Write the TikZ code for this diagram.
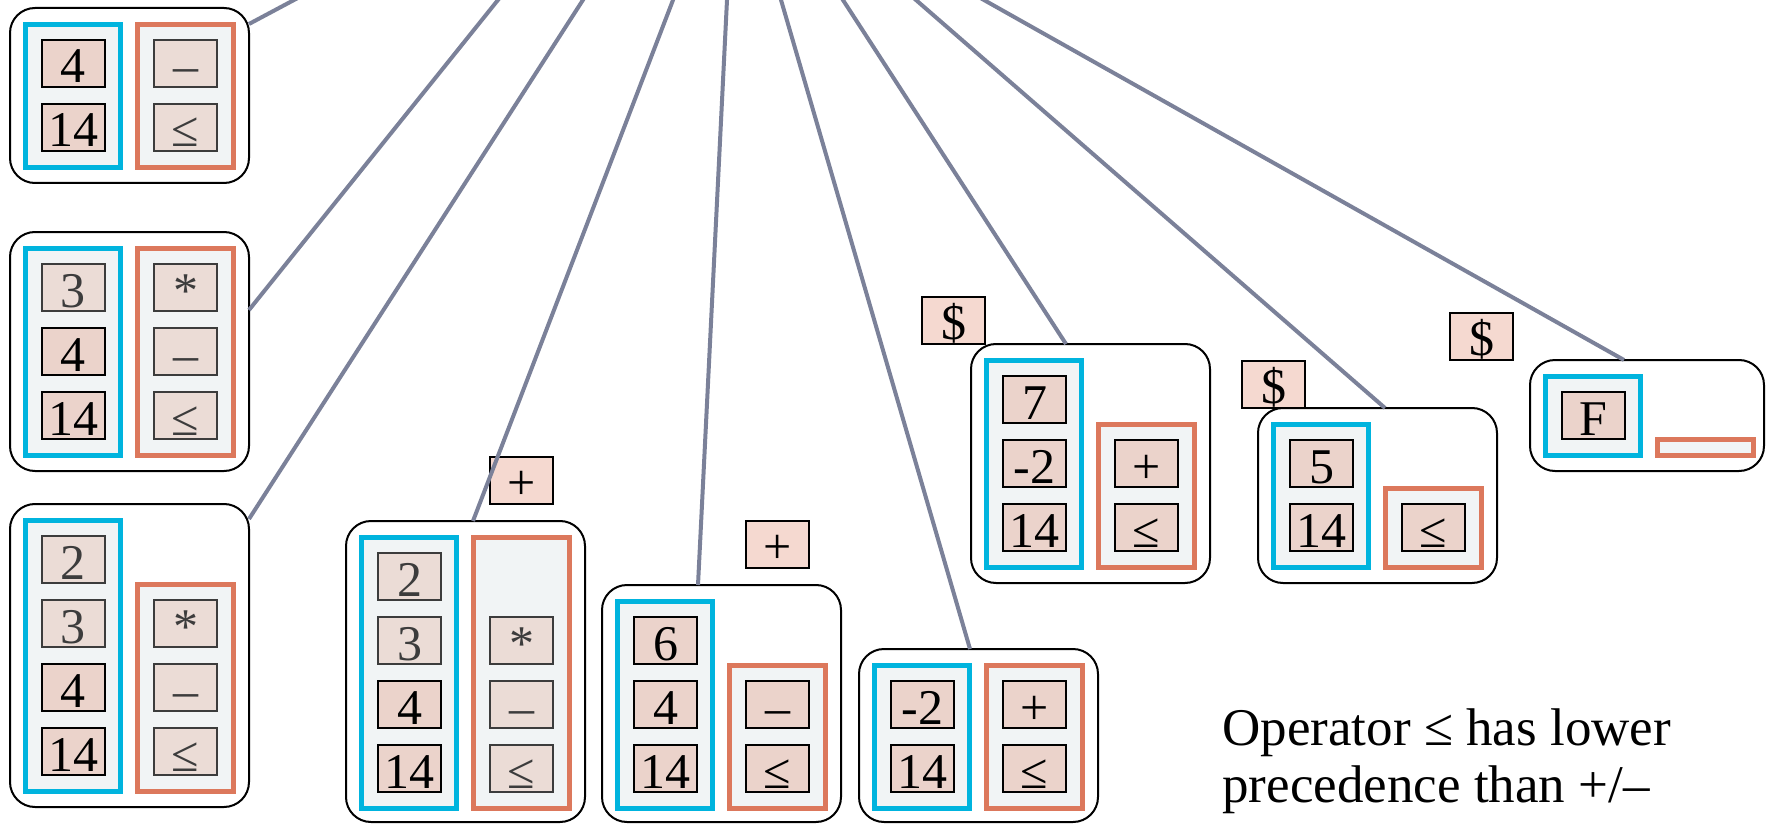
\documentclass[tikz,border=0pt]{standalone}
\usepackage{fontspec}
\setmainfont{Liberation Serif}
\usetikzlibrary{calc,fit}

\definecolor{linkgray}{RGB}{123,129,153}
\definecolor{stackblue}{RGB}{0,180,222}
\definecolor{opred}{RGB}{220,120,92}
\definecolor{panelfill}{RGB}{241,244,245}
\definecolor{cellfill}{RGB}{235,211,203}
\definecolor{dimfill}{RGB}{235,220,214}
\definecolor{floatfill}{RGB}{245,217,208}
\definecolor{dimink}{RGB}{60,60,60}

\tikzset{
  frame/.style={draw=black, line width=1pt, rounded corners=12.5pt, inner sep=0pt, outer sep=0pt},
  valpanel/.style={draw=stackblue, fill=panelfill, line width=2.5pt, inner sep=0pt, outer sep=0pt},
  oppanel/.style={draw=opred, fill=panelfill, line width=2.5pt, inner sep=0pt, outer sep=0pt},
  cell/.style={draw=black, fill=cellfill, line width=1pt, minimum width=31.5pt,
    minimum height=23.5pt, inner sep=0pt, outer sep=0pt, text height=19.5pt, text depth=0pt,
    font=\fontsize{25}{30}\selectfont},
  dimcell/.style={cell, draw=dimink, fill=dimfill, text=dimink},
  pending/.style={cell, fill=floatfill},
  link/.style={draw=linkgray, line width=2pt},
  note/.style={anchor=base west, inner sep=0pt, font=\fontsize{26.5}{28.5}\selectfont},
}

\begin{document}
\begin{tikzpicture}[x=0.5pt, y=-0.5pt]
\useasboundingbox (0,0) rectangle (1768,824);
\clip (0,0) rectangle (1768,824);

% ---- state A: 4 14 | - <=
\node[frame, fit={(10,8) (249,183)}] (oA) {};
\node[valpanel, fit={(25.5,24.5) (120.5,167.5)}] (vA) {};
\node[oppanel, fit={(137.5,24.5) (233.5,167.5)}] (pA) {};
\node[cell] (a1) at (73.5,63.5) {4};
\node[cell] (a2) at (73.5,127.5) {14};
\node[dimcell] (a3) at (185.5,63.5) {–};
\node[dimcell] (a4) at (185.5,127.5) {≤};

% ---- state B: 3 4 14 | * - <=
\node[frame, fit={(10,232) (249,471)}] (oB) {};
\node[valpanel, fit={(25.5,248.5) (120.5,455.5)}] (vB) {};
\node[oppanel, fit={(137.5,248.5) (233.5,455.5)}] (pB) {};
\node[dimcell] (b1) at (73.5,287.5) {3};
\node[cell] (b2) at (73.5,351.5) {4};
\node[cell] (b3) at (73.5,415.5) {14};
\node[dimcell] (b4) at (185.5,287.5) {*};
\node[dimcell] (b5) at (185.5,351.5) {–};
\node[dimcell] (b6) at (185.5,415.5) {≤};

% ---- state C: 2 3 4 14 | * - <=
\node[frame, fit={(10,504) (249,807)}] (oC) {};
\node[valpanel, fit={(25.5,520.5) (120.5,791.5)}] (vC) {};
\node[oppanel, fit={(137.5,584.5) (233.5,791.5)}] (pC) {};
\node[dimcell] (c1) at (73.5,559.5) {2};
\node[dimcell] (c2) at (73.5,623.5) {3};
\node[cell] (c3) at (73.5,687.5) {4};
\node[cell] (c4) at (73.5,751.5) {14};
\node[dimcell] (c5) at (185.5,623.5) {*};
\node[dimcell] (c6) at (185.5,687.5) {–};
\node[dimcell] (c7) at (185.5,751.5) {≤};

% ---- state D: 2 3 4 14 | * - <=, next token +
\node[frame, fit={(346,521) (585,822)}] (oD) {};
\node[valpanel, fit={(361.5,537.5) (456.5,808.5)}] (vD) {};
\node[oppanel, fit={(473.5,537.5) (569.5,808.5)}] (pD) {};
\node[dimcell] (d1) at (409.5,576.5) {2};
\node[dimcell] (d2) at (409.5,640.5) {3};
\node[cell] (d3) at (409.5,704.5) {4};
\node[cell] (d4) at (409.5,768.5) {14};
\node[dimcell] (d5) at (521.5,640.5) {*};
\node[dimcell] (d6) at (521.5,704.5) {–};
\node[dimcell] (d7) at (521.5,768.5) {≤};
\node[pending] (tokD) at (521.5,480) {+};

% ---- state E: 6 4 14 | - <=, next token +
\node[frame, fit={(602,585) (841,822)}] (oE) {};
\node[valpanel, fit={(617.5,601.5) (712.5,808.5)}] (vE) {};
\node[oppanel, fit={(729.5,665.5) (825.5,808.5)}] (pE) {};
\node[cell] (e1) at (665.5,640.5) {6};
\node[cell] (e2) at (665.5,704.5) {4};
\node[cell] (e3) at (665.5,768.5) {14};
\node[cell] (e4) at (777.5,704.5) {–};
\node[cell] (e5) at (777.5,768.5) {≤};
\node[pending] (tokE) at (777.5,544) {+};

% ---- state F: -2 14 | + <=
\node[frame, fit={(859,649) (1098,822)}] (oF) {};
\node[valpanel, fit={(874.5,665.5) (969.5,808.5)}] (vF) {};
\node[oppanel, fit={(986.5,665.5) (1082.5,808.5)}] (pF) {};
\node[cell] (f1) at (922.5,704.5) {-2};
\node[cell] (f2) at (922.5,768.5) {14};
\node[cell] (f3) at (1034.5,704.5) {+};
\node[cell] (f4) at (1034.5,768.5) {≤};

% ---- state G: 7 -2 14 | + <=, next token $
\node[frame, fit={(971,344) (1210,583)}] (oG) {};
\node[valpanel, fit={(986.5,360.5) (1081.5,567.5)}] (vG) {};
\node[oppanel, fit={(1098.5,424.5) (1194.5,567.5)}] (pG) {};
\node[cell] (g1) at (1034.5,399.5) {7};
\node[cell] (g2) at (1034.5,463.5) {-2};
\node[cell] (g3) at (1034.5,527.5) {14};
\node[cell] (g4) at (1146.5,463.5) {+};
\node[cell] (g5) at (1146.5,527.5) {≤};
\node[pending] (tokG) at (953.5,320) {\$};

% ---- state H: 5 14 | <=, next token $
\node[frame, fit={(1258,408) (1497,583)}] (oH) {};
\node[valpanel, fit={(1273.5,424.5) (1368.5,567.5)}] (vH) {};
\node[oppanel, fit={(1385.5,488.5) (1481.5,567.5)}] (pH) {};
\node[cell] (h1) at (1321.5,463.5) {5};
\node[cell] (h2) at (1321.5,527.5) {14};
\node[cell] (h3) at (1433.5,527.5) {≤};
\node[pending] (tokH) at (1273.5,384) {\$};

% ---- state I: F | empty, next token $
\node[frame, fit={(1530,360) (1764,471)}] (oI) {};
\node[valpanel, fit={(1545.5,376.5) (1640.5,455.5)}] (vI) {};
\node[oppanel, fit={(1657.5,439.5) (1753.5,455.5)}] (pI) {};
\node[cell] (i1) at (1593.5,415.5) {F};
\node[pending] (tokI) at (1481.5,336) {\$};

% ---- remark
\node[note] (rem1) at (1222,745) {Operator ≤ has lower};
\node[note] (rem2) at (1222,802) {precedence than +/–};

% ---- links towards the parent above
\coordinate (tA) at (331.5,-20);
\coordinate (tB) at (514,-20);
\coordinate (tC) at (595.8,-20);
\coordinate (tD) at (680.7,-20);
\coordinate (tE) at (728,-20);
\coordinate (tF) at (775.2,-20);
\coordinate (tG) at (830,-20);
\coordinate (tH) at (893,-20);
\coordinate (tI) at (948.4,-20);

\draw[link] (tA) -- ($(oA.north east)+(0,16)$);
\draw[link] (tB) -- ($(oB.north east)+(0,78)$);
\draw[link] (tC) -- ($(oC.north east)+(0,15)$);
\draw[link] (tD) -- ($(oD.north west)+(127,0)$);
\draw[link] (tE) -- ($(oE.north west)+(96,0)$);
\draw[link] (tF) -- ($(oF.north west)+(111,0)$);
\draw[link] (tG) -- ($(oG.north west)+(95,0)$);
\draw[link] (tH) -- ($(oH.north west)+(127,0)$);
\draw[link] (tI) -- ($(oI.north west)+(94,0)$);
\end{tikzpicture}
\end{document}
